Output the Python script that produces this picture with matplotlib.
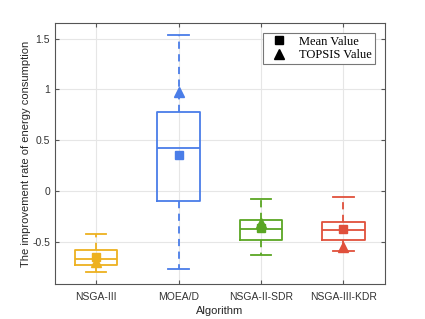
import matplotlib
matplotlib.use("Agg")
import matplotlib.pyplot as plt
from matplotlib.lines import Line2D

plt.rcParams['axes.unicode_minus'] = False
plt.rcParams['font.family'] = ['Liberation Sans', 'DejaVu Sans']

# Data
algorithms = ['NSGA-III', 'MOEA/D', 'NSGA-II-SDR', 'NSGA-III-KDR']
whisker_low = [-0.797, -0.764, -0.626, -0.593]
q1 = [-0.731, -0.098, -0.482, -0.482]
medians = [-0.672, 0.42, -0.377, -0.387]
q3 = [-0.58, 0.78, -0.288, -0.30]
whisker_high = [-0.423, 1.53, -0.079, -0.056]
mean_values = [-0.645, 0.35, -0.367, -0.377]
topsis_values = [-0.70, 0.97, -0.315, -0.553]
colors = ['#EDB120', '#4A7DE8', '#5AA623', '#E0503C']

fig = plt.figure(figsize=(4.25, 3.19), dpi=100)
ax = fig.add_axes([0.129, 0.111, 0.776, 0.816])

positions = list(range(1, len(algorithms) + 1))
for i, pos in enumerate(positions):
    stats = [{
        'whislo': whisker_low[i], 'q1': q1[i], 'med': medians[i],
        'q3': q3[i], 'whishi': whisker_high[i], 'fliers': [],
    }]
    c = colors[i]
    ax.bxp(stats, positions=[pos], widths=0.52, showfliers=False,
           boxprops=dict(color=c, linewidth=1.3),
           medianprops=dict(color=c, linewidth=1.3),
           whiskerprops=dict(color=c, linewidth=1.3, linestyle=(0, (4, 3))),
           capprops=dict(color=c, linewidth=1.3), capwidths=0.25,
           zorder=3)
    ax.plot(pos, mean_values[i], 's', color=c, markersize=6, zorder=4)
    ax.plot(pos, topsis_values[i], '^', color=c, markersize=7.5, zorder=4)

ax.set_xlim(0.5, 4.5)
ax.set_ylim(-0.91, 1.65)
ax.set_xticks(positions)
ax.set_xticklabels(algorithms)
ax.set_yticks([-0.5, 0, 0.5, 1, 1.5])
ax.set_yticklabels(['-0.5', '0', '0.5', '1', '1.5'])
ax.tick_params(direction='in', labelsize=7.5, colors='#555555', length=3,
               top=True, right=True, labelcolor='#333333')
ax.tick_params(axis='x', pad=6)
ax.grid(True, color='#e6e6e6', linewidth=0.8, zorder=0)
ax.set_axisbelow(True)
for sp in ax.spines.values():
    sp.set_color('#555555')
    sp.set_linewidth(0.8)

ax.set_xlabel('Algorithm', fontsize=8, color='#262626', labelpad=3)
ax.set_ylabel('The improvement rate of energy consumption', fontsize=8,
              color='#262626', labelpad=1)

handles = [
    Line2D([], [], marker='s', color='k', linestyle='none', markersize=6),
    Line2D([], [], marker='^', color='k', linestyle='none', markersize=7.5),
]
leg = ax.legend(handles, ['Mean Value', 'TOPSIS Value'], loc='upper right',
                prop={'family': 'Liberation Serif', 'size': 9},
                fancybox=False, framealpha=1, edgecolor='#777777',
                borderpad=0.25, handletextpad=0.5, labelspacing=0.1,
                handlelength=2.2, borderaxespad=0.75)
leg.get_frame().set_linewidth(0.8)

fig.savefig('out.png', dpi=100)
